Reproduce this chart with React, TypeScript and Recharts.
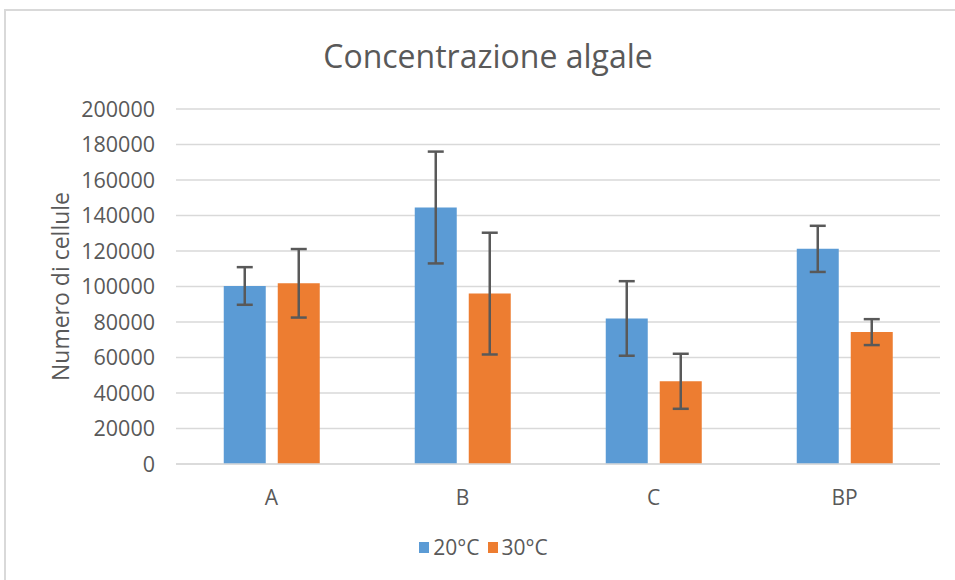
import React from "react";
import {
  BarChart,
  Bar,
  XAxis,
  YAxis,
  CartesianGrid,
  ErrorBar,
  Legend,
} from "recharts";

const categories = ["A", "B", "C", "BP"];
const values20 = [100300, 144500, 82000, 121200];
const errors20 = [10600, 31500, 21000, 13000];
const values30 = [101800, 96000, 46600, 74300];
const errors30 = [19300, 34300, 15500, 7300];
const yTicks = [0, 20000, 40000, 60000, 80000, 100000, 120000, 140000, 160000, 180000, 200000];

const BLUE = "#5B9BD5";
const ORANGE = "#ED7D31";
const TEXT = "#595959";
const GRID = "#D9D9D9";
const FONT = "'Open Sans', 'Noto Sans', sans-serif";

const data = categories.map((name, i) => ({
  name,
  v20: values20[i],
  e20: errors20[i],
  v30: values30[i],
  e30: errors30[i],
}));

function YLabel({ viewBox }: any) {
  const cy = viewBox.y + viewBox.height / 2;
  return (
    <text
      x={60}
      y={cy}
      transform={`rotate(-90, 60, ${cy})`}
      textAnchor="middle"
      dominantBaseline="central"
      fill={TEXT}
      fontSize={23}
      fontFamily={FONT}
    >
      Numero di cellule
    </text>
  );
}

function LegendContent() {
  const items = [
    { label: "20°C", color: BLUE },
    { label: "30°C", color: ORANGE },
  ];
  return (
    <div style={{ display: "flex", justifyContent: "center", gap: 8, fontFamily: FONT, fontSize: 21, color: TEXT }}>
      {items.map((it) => (
        <div key={it.label} style={{ display: "flex", alignItems: "center", gap: 4 }}>
          <span style={{ width: 10, height: 11, background: it.color, display: "inline-block" }} />
          <span>{it.label}</span>
        </div>
      ))}
    </div>
  );
}

export default function App() {
  return (
    <div style={{ position: "absolute", left: 0, top: 0, width: 955, height: 580, background: "#fff", overflow: "hidden" }}>
      <div
        style={{
          position: "absolute",
          left: 4,
          top: 9,
          width: 960,
          height: 600,
          borderLeft: `2px solid ${GRID}`,
          borderTop: `2px solid ${GRID}`,
        }}
      />
      <div
        style={{
          position: "absolute",
          left: 0,
          width: 976,
          top: 36,
          textAlign: "center",
          fontFamily: FONT,
          fontSize: 32,
          color: TEXT,
          lineHeight: "40px",
        }}
      >
        Concentrazione algale
      </div>
      <div style={{ position: "absolute", left: 0, top: 0 }}>
        <BarChart
          width={955}
          height={580}
          data={data}
          margin={{ top: 109, right: 15, bottom: 56, left: 0 }}
          barCategoryGap="25%"
          barGap={12}
        >
          <CartesianGrid vertical={false} stroke={GRID} strokeWidth={1.5} />
          <XAxis
            dataKey="name"
            height={60}
            axisLine={{ stroke: GRID, strokeWidth: 1.5 }}
            tickLine={false}
            tickMargin={20}
            tick={{ fill: TEXT, fontSize: 21, fontFamily: FONT }}
          />
          <YAxis
            width={176}
            domain={[0, 200000]}
            ticks={yTicks}
            axisLine={false}
            tickLine={false}
            tickMargin={15}
            interval={0}
            tick={{ fill: TEXT, fontSize: 21.5, fontFamily: FONT }}
            label={<YLabel />}
          />
          <Legend
            verticalAlign="middle"
            align="center"
            content={<LegendContent />}
            wrapperStyle={{ position: "absolute", top: 533, left: 6, width: 955 }}
          />
          <Bar dataKey="v20" name="20°C" fill={BLUE} isAnimationActive={false}>
            <ErrorBar dataKey="e20" width={8} strokeWidth={2.5} stroke={TEXT} direction="y" />
          </Bar>
          <Bar dataKey="v30" name="30°C" fill={ORANGE} isAnimationActive={false}>
            <ErrorBar dataKey="e30" width={8} strokeWidth={2.5} stroke={TEXT} direction="y" />
          </Bar>
        </BarChart>
      </div>
    </div>
  );
}
